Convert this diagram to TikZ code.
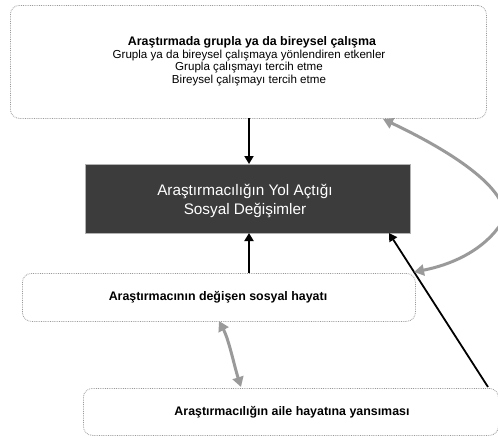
\documentclass[tikz,border=0pt]{standalone}
\usepackage{fontspec}
\setmainfont{Liberation Sans}
\usetikzlibrary{arrows.meta}
\definecolor{darkbox}{HTML}{3C3C3C}
\definecolor{arrowgray}{HTML}{9A9A9A}
\begin{document}
\begin{tikzpicture}[x=1pt,y=-1pt,
  roundbox/.style={draw=gray!80, line width=0.8pt, densely dotted, rounded corners=9pt, fill=white},
  blackarrow/.style={line width=1.8pt, -{Triangle[length=8pt,width=9pt]}},
  grayarrow/.style={draw=arrowgray, line width=3pt, {Triangle[length=10pt,width=11pt]}-{Triangle[length=10pt,width=11pt]}},
  boldtxt/.style={font=\fontsize{12.4}{14}\selectfont\bfseries, inner sep=0pt, anchor=base},
  plaintxt/.style={font=\fontsize{11.6}{14}\selectfont, inner sep=0pt, anchor=base},
  whitetxt/.style={font=\fontsize{15.3}{18}\selectfont, text=white, inner sep=0pt, anchor=base}]
\useasboundingbox (0,0) rectangle (498,437);
\fill[white] (0,0) rectangle (498,437);
% boxes
\node[roundbox, minimum width=476pt, minimum height=113pt, anchor=north west] (top) at (10,5) {};
\node[boldtxt] (t1) at (252,45.3) {Araştırmada grupla ya da bireysel çalışma};
\node[plaintxt] (t2) at (249,58) {Grupla ya da bireysel çalışmaya yönlendiren etkenler};
\node[plaintxt] (t3) at (249,70.7) {Grupla çalışmayı tercih etme};
\node[plaintxt] (t4) at (249,83.3) {Bireysel çalışmayı tercih etme};
\node[fill=darkbox, draw=gray!60, line width=0.4pt, minimum width=325pt, minimum height=69pt, anchor=north west, inner sep=0pt] (mid) at (85,164) {};
\node[whitetxt] (m1) at (245,195) {Araştırmacılığın Yol Açtığı};
\node[whitetxt] (m2) at (245,214.5) {Sosyal Değişimler};
\node[roundbox, minimum width=393pt, minimum height=48pt, anchor=north west] (soc) at (22,273) {};
\node[boldtxt] (soctext) at (218,300) {Araştırmacının değişen sosyal hayatı};
\node[roundbox, minimum width=415pt, minimum height=47pt, anchor=north west] (fam) at (83,388) {};
\node[boldtxt] (famtext) at (292,415) {Araştırmacılığın aile hayatına yansıması};
% connectors
\coordinate (topb) at (249,118);
\coordinate (midt) at (249,164);
\coordinate (midb) at (249,233);
\coordinate (soct) at (249,273);
\draw[blackarrow] (topb) -- (midt);
\draw[blackarrow] (soct) -- (midb);
\coordinate (famc) at (488,387);
\coordinate (midc) at (389,233);
\draw[blackarrow] (famc) -- (midc);
\coordinate (g1) at (383,119);
\coordinate (g2) at (414,272);
\begin{scope}
\clip (0,0) rectangle (498,437);
\draw[grayarrow] (g1) .. controls (480,165) and (520,205) .. (498,228) .. controls (480,252) and (450,265) .. (g2);
\end{scope}
\coordinate (s1) at (219,321);
\coordinate (s2) at (241,387);
\draw[grayarrow] (s1) .. controls (229,340) and (234,365) .. (s2);
\end{tikzpicture}
\end{document}
